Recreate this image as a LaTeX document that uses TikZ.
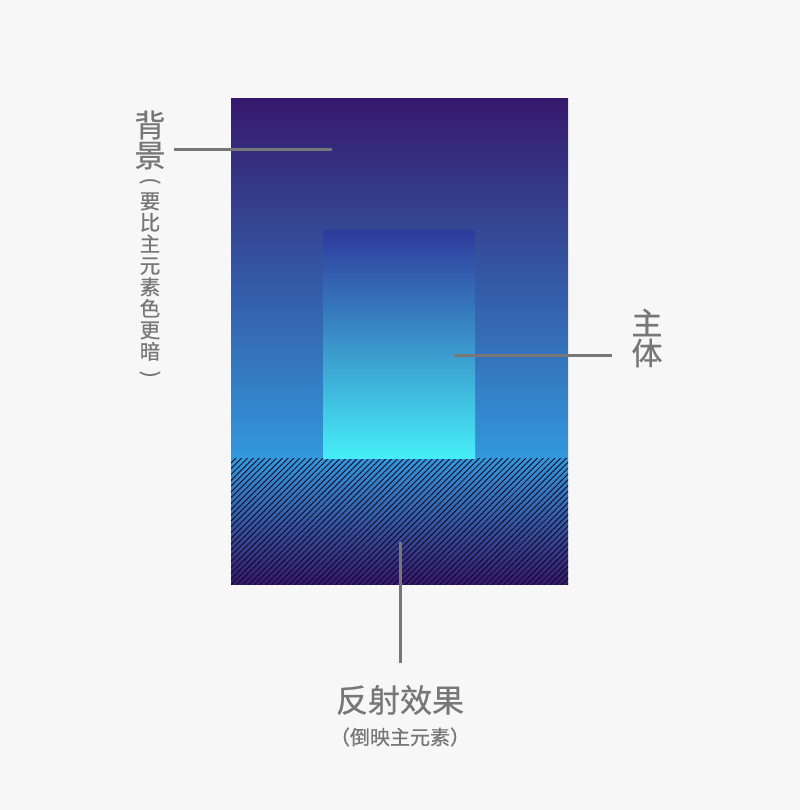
\documentclass[tikz,border=0pt]{standalone}
\usepackage{fontspec}
\usepackage{graphicx}
\setmainfont{Noto Sans CJK SC}[UprightFeatures={FakeBold=0.6}]
\usetikzlibrary{patterns.meta,positioning}

\definecolor{pagegray}{HTML}{F7F7F7}
\definecolor{labelgray}{HTML}{777777}
\definecolor{deeppurple}{HTML}{36196C}
\definecolor{midblue}{HTML}{2F5AA8}
\definecolor{skyblue}{HTML}{3398DC}
\definecolor{bodytop}{HTML}{2E3A9C}
\definecolor{bodymid}{HTML}{3592C8}
\definecolor{bodybottom}{HTML}{46EEF8}

\newcommand{\vparen}[1]{\rotatebox[origin=c]{-90}{#1}}

\begin{document}
\begin{tikzpicture}[x=1pt,y=-1pt,
    leader/.style={labelgray,line width=3pt},
    biglabel/.style={labelgray,inner sep=0pt,align=center,
      font=\fontsize{31}{30}\selectfont},
    smalllabel/.style={labelgray,inner sep=0pt,align=center,
      font=\fontsize{20.5}{21.5}\selectfont}]
%      \draw[help lines,step=50] (0,0) grid (800,810);

      \fill[pagegray] (0,0) rectangle (800,810);

      % background and its reflection
      \shade[top color=deeppurple,middle color=midblue,bottom color=skyblue]
        (231,99) rectangle (568,458);
      \shade[top color=skyblue,bottom color=deeppurple]
        (231,458) rectangle (568,584);
      \fill[pattern={Lines[angle=45,distance=4.1pt,line width=0.85pt]},
            pattern color=black!70!deeppurple]
        (231,458) rectangle (568,584);

      % main element
      \shade[top color=bodytop,middle color=bodymid,bottom color=bodybottom]
        (323,230) rectangle (475,458);

      % labels
      \node[biglabel] (bgtitle) at (150,140) {背\\景};
      \node[smalllabel] (bgnote) at (150,279)
        {\vparen{(}\\要\\比\\主\\元\\素\\色\\更\\暗\\\vparen{)}};

      \node[biglabel] (bodytitle) at (647,338) {主\\体};

      \node[labelgray,inner sep=0pt,font=\fontsize{32}{32}\selectfont]
        (refltitle) at (400,700) {反射效果};
      \node[labelgray,inner sep=0pt,font=\fontsize{20}{20}\selectfont]
        (reflnote) at (400,737) {（倒映主元素）};

      % leader lines
      \coordinate (bgstart)   at (174,150);
      \coordinate (bgpoint)   at (332,150);
      \coordinate (bodypoint) at (454,355);
      \coordinate (bodystart) at (612,355);
      \coordinate (reflpoint) at (400,542);
      \coordinate (reflstart) at (400,663);

      \draw[leader] (bgstart) -- (bgpoint);
      \draw[leader] (bodystart) -- (bodypoint);
      \draw[leader] (reflstart) -- (reflpoint);
\end{tikzpicture}
\end{document}
